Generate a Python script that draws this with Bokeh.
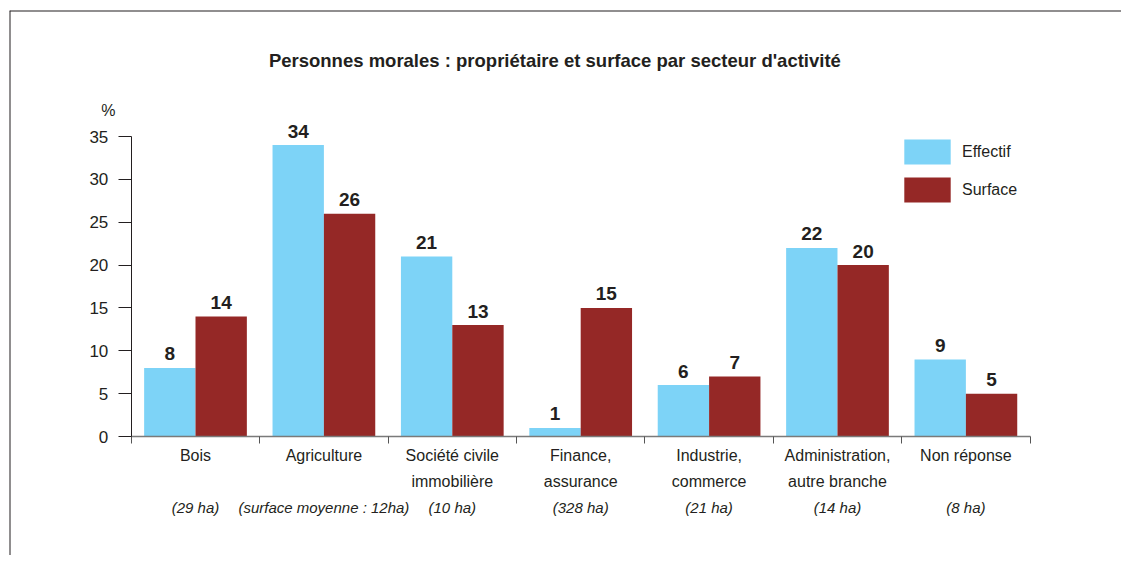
from bokeh.plotting import figure
from bokeh.models import (Range1d, LinearAxis, FixedTicker, ColumnDataSource,
                          Legend, LegendItem, Span, Label)
from bokeh.core.properties import value
from bokeh.embed import file_html
from bokeh.resources import INLINE

# ---- data ----
categories = ["Bois", "Agriculture", "Société civile\nimmobilière", "Finance,\nassurance",
              "Industrie,\ncommerce", "Administration,\nautre branche", "Non réponse"]
surfaces_moyennes = ["(29 ha)", "(surface moyenne : 12ha)", "(10 ha)", "(328 ha)",
                     "(21 ha)", "(14 ha)", "(8 ha)"]
effectif = [8, 34, 21, 1, 6, 22, 9]
surface = [14, 26, 13, 15, 7, 20, 5]
y_ticks = [0, 5, 10, 15, 20, 25, 30, 35]

title_text = "Personnes morales :  propriétaire et surface par secteur d'activité"

BLUE = "#7dd3f7"
RED = "#952826"
TXT = "#231f20"
FONT = "'Liberation Sans', Arial, sans-serif"

n = len(categories)
idx = list(range(n))
src_eff = ColumnDataSource(dict(x=[i + 0.3 for i in idx], top=effectif,
                                lbl=[str(v) for v in effectif]))
src_sur = ColumnDataSource(dict(x=[i + 0.7 for i in idx], top=surface,
                                lbl=[str(v) for v in surface]))
line1 = [c.split("\n")[0] for c in categories]
line2 = [c.split("\n")[1] if "\n" in c else "" for c in categories]
src_cat = ColumnDataSource(dict(x=[i + 0.5 for i in idx], y=[0] * n,
                                l1=line1, l2=line2, l3=surfaces_moyennes))

p = figure(width=1121, height=555, output_backend="svg", toolbar_location=None,
           x_range=Range1d(-0.9486, 7.712), y_range=Range1d(-13.88, 49.7),
           x_axis_location=None, y_axis_location=None,
           min_border_left=9, min_border_top=10, min_border_right=0, min_border_bottom=0)
p.outline_line_color = None
for g in p.grid:
    g.visible = False

yaxis = LinearAxis(fixed_location=0, bounds=(0, 35), ticker=FixedTicker(ticks=y_ticks),
                   major_tick_out=13, major_tick_in=0, minor_tick_out=0, minor_tick_in=0,
                   axis_line_color=TXT, major_tick_line_color=TXT,
                   major_label_standoff=10, major_label_text_font=FONT,
                   major_label_text_font_size="17px", major_label_text_color=TXT)
p.add_layout(yaxis, "left")

xaxis = LinearAxis(fixed_location=0, bounds=(0, n), ticker=FixedTicker(ticks=list(range(n + 1))),
                   major_tick_out=7, major_tick_in=0, minor_tick_out=0, minor_tick_in=0,
                   axis_line_color="#7a7a7a", major_tick_line_color="#555555",
                   axis_line_width=1.5, major_label_text_color=None)
p.add_layout(xaxis, "below")

r1 = p.vbar(x="x", top="top", width=0.4, source=src_eff, fill_color=BLUE, line_color=None)
r2 = p.vbar(x="x", top="top", width=0.4, source=src_sur, fill_color=RED, line_color=None)

for s in (src_eff, src_sur):
    p.text(x="x", y="top", text="lbl", source=s, text_align="center",
           text_baseline="middle", y_offset=-14, text_font=value(FONT),
           text_font_size="19px", text_font_style="bold", text_color=TXT)

for col, off, style, size in (("l1", 19, "normal", "16px"), ("l2", 45, "normal", "16px"),
                              ("l3", 71, "italic", "15px")):
    p.text(x="x", y="y", text=col, source=src_cat, text_align="center",
           text_baseline="middle", y_offset=off, text_font=value(FONT),
           text_font_size=size, text_font_style=style, text_color=TXT)

p.add_layout(Label(x=3.319, y=43.81, text=title_text, text_align="center",
                   text_baseline="middle", text_font=FONT, text_font_size="18.5px",
                   text_font_style="bold", text_color=TXT))
p.add_layout(Label(x=-0.178, y=38.0, text="%", text_align="center",
                   text_baseline="middle", text_font=FONT, text_font_size="16px",
                   text_color=TXT))

legend = Legend(items=[LegendItem(label="Effectif", renderers=[r1]),
                       LegendItem(label="Surface", renderers=[r2])],
                location=(889, 350), glyph_width=58, glyph_height=31, spacing=7,
                padding=0, margin=0, border_line_color=None, background_fill_alpha=0,
                label_standoff=6, label_text_font=FONT, label_text_font_size="16px",
                label_text_color=TXT)
p.add_layout(legend)

p.add_layout(Span(location=49.7, dimension="width", line_color=TXT, line_width=2))
p.add_layout(Span(location=-0.9486, dimension="height", line_color=TXT, line_width=2))

open("out.html", "w").write(file_html(p, INLINE))
